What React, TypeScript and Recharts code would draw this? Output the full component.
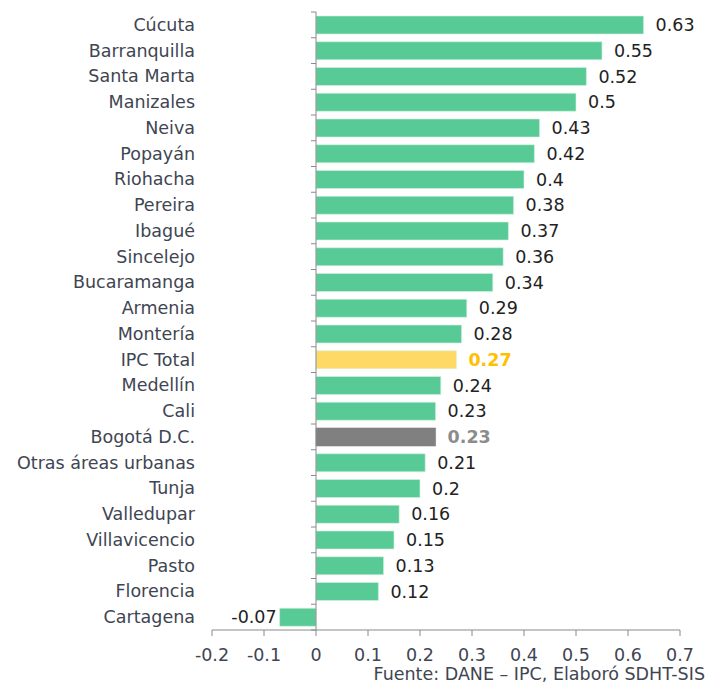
import React from "react";
import { BarChart, Bar, XAxis, YAxis, Cell, LabelList, ReferenceLine } from "recharts";

// Variación mensual IPC por ciudad, ordenada de mayor a menor.
const cities = [
  "Cúcuta", "Barranquilla", "Santa Marta", "Manizales", "Neiva", "Popayán",
  "Riohacha", "Pereira", "Ibagué", "Sincelejo", "Bucaramanga", "Armenia",
  "Montería", "IPC Total", "Medellín", "Cali", "Bogotá D.C.",
  "Otras áreas urbanas", "Tunja", "Valledupar", "Villavicencio", "Pasto",
  "Florencia", "Cartagena",
];
const values = [
  0.63, 0.55, 0.52, 0.5, 0.43, 0.42, 0.4, 0.38, 0.37, 0.36, 0.34, 0.29,
  0.28, 0.27, 0.24, 0.23, 0.23, 0.21, 0.2, 0.16, 0.15, 0.13, 0.12, -0.07,
];
const xTicks = [-0.2, -0.1, 0, 0.1, 0.2, 0.3, 0.4, 0.5, 0.6, 0.7];

const GREEN = "#58CA95";
const FONT = "'DejaVu Sans', sans-serif";
const FS = 17.5;
const TEXT = "#404552";

const barColor = (name: string) =>
  name === "IPC Total" ? "#FFD966" : name === "Bogotá D.C." ? "#808080" : GREEN;
const labelColor = (name: string) =>
  name === "IPC Total" ? "#FFC000" : name === "Bogotá D.C." ? "#8C8C8C" : "#222";

const data = cities.map((c, i) => ({ city: c, value: values[i] }));

const W = 711;
const H = 685;
const M = { top: 12, right: 31, left: 0, bottom: 25 };
const YW = 212;
const DOMAIN: [number, number] = [-0.2, 0.7];
const plotW = W - M.left - M.right - YW;
const plotH = H - M.top - M.bottom - 30;
const zeroX = M.left + YW + ((0 - DOMAIN[0]) / (DOMAIN[1] - DOMAIN[0])) * plotW;
const band = plotH / cities.length;

function CityTick(props: any) {
  const { y, payload, index } = props;
  return (
    <g>
      <text x={195} y={y} dy={6} textAnchor="end" fontSize={FS} fontFamily={FONT} fill={TEXT}>
        {payload.value}
      </text>
      <line x1={zeroX - 5} x2={zeroX} y1={y - band / 2} y2={y - band / 2} stroke="#8a8a8a" />
      {index === cities.length - 1 && (
        <line x1={zeroX - 5} x2={zeroX} y1={y + band / 2} y2={y + band / 2} stroke="#8a8a8a" />
      )}
    </g>
  );
}

function ValueLabel(props: any) {
  const { x, y, width, height, value, index } = props;
  const name = cities[index];
  const special = name === "IPC Total" || name === "Bogotá D.C.";
  const neg = value < 0;
  const tx = neg ? x + width - 3 : x + width + 12;
  return (
    <text
      x={tx}
      y={y + height / 2}
      dy={6}
      textAnchor={neg ? "end" : "start"}
      fontSize={FS}
      fontFamily={FONT}
      fontWeight={special ? "bold" : "normal"}
      fill={labelColor(name)}
    >
      {value}
    </text>
  );
}

export default function App() {
  return (
    <div style={{ position: "absolute", left: 0, top: 0, width: W, height: H, background: "#fff" }}>
      <BarChart width={W} height={H} data={data} layout="vertical" margin={M}>
        <XAxis
          type="number"
          domain={DOMAIN}
          ticks={xTicks}
          interval={0}
          height={30}
          axisLine={{ stroke: "#8a8a8a" }}
          tickLine={{ stroke: "#8a8a8a" }}
          tickSize={6}
          tick={{ fontSize: FS, fontFamily: FONT, fill: TEXT, dy: 11 }}
        />
        <YAxis
          type="category"
          dataKey="city"
          width={YW}
          axisLine={false}
          tickLine={false}
          interval={0}
          tick={<CityTick />}
        />
        <ReferenceLine x={0} stroke="#8a8a8a" />
        <Bar dataKey="value" barSize={18} isAnimationActive={false} strokeWidth={0.6}>
          {data.map((d) => (
            <Cell
              key={d.city}
              fill={barColor(d.city)}
              stroke={d.city === "Bogotá D.C." ? "#808080" : "#d6f2e4"}
            />
          ))}
          <LabelList dataKey="value" content={<ValueLabel />} />
        </Bar>
      </BarChart>
      <div
        style={{
          position: "absolute",
          right: 6,
          top: 665,
          fontFamily: FONT,
          fontSize: FS,
          lineHeight: "19px",
          color: TEXT,
          whiteSpace: "nowrap",
        }}
      >
        Fuente: DANE – IPC, Elaboró SDHT-SIS
      </div>
    </div>
  );
}
